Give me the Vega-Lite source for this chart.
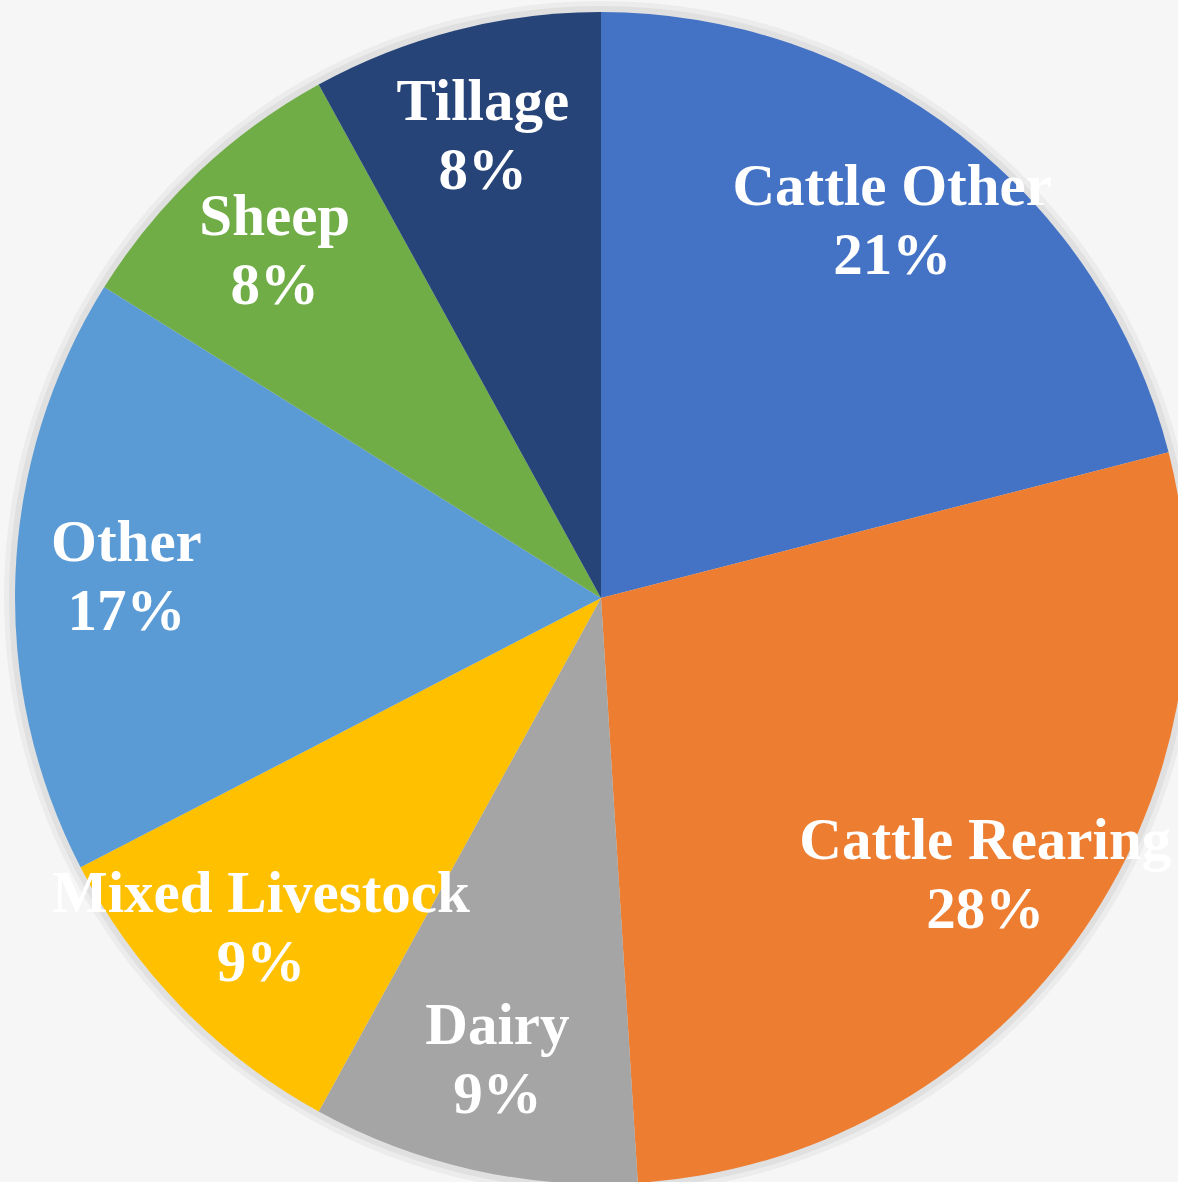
{
  "$schema": "https://vega.github.io/schema/vega-lite/v6.json",
  "width": 1178,
  "height": 1182,
  "autosize": {"type": "none"},
  "padding": 0,
  "background": "#f6f6f6",
  "config": {"view": {"stroke": null}},
  "data": {
    "values": [
      {"idx": 1, "category": "Cattle Other", "value": 21.0, "label": "Cattle Other\n21%"},
      {"idx": 2, "category": "Cattle Rearing", "value": 28.0, "label": "Cattle Rearing\n28%"},
      {"idx": 3, "category": "Dairy", "value": 9.0, "label": "Dairy\n9%"},
      {"idx": 4, "category": "Mixed Livestock", "value": 9.4, "label": "Mixed Livestock\n9%"},
      {"idx": 5, "category": "Other", "value": 16.5, "label": "Other\n17%"},
      {"idx": 6, "category": "Sheep", "value": 8.1, "label": "Sheep\n8%"},
      {"idx": 7, "category": "Tillage", "value": 8.0, "label": "Tillage\n8%"}
    ]
  },
  "encoding": {
    "theta": {"field": "value", "type": "quantitative", "stack": true},
    "order": {"field": "idx", "type": "quantitative"}
  },
  "layer": [
    {
      "mark": {"type": "arc", "outerRadius": 597, "color": "#000000", "opacity": 0.04, "xOffset": 12, "yOffset": 7}
    },
    {
      "mark": {"type": "arc", "outerRadius": 592, "color": "#000000", "opacity": 0.05, "xOffset": 12, "yOffset": 7}
    },
    {
      "mark": {"type": "arc", "outerRadius": 586, "xOffset": 12, "yOffset": 7},
      "encoding": {
        "color": {
          "field": "category",
          "type": "nominal",
          "sort": null,
          "legend": null,
          "scale": {
            "domain": ["Cattle Other", "Cattle Rearing", "Dairy", "Mixed Livestock", "Other", "Sheep", "Tillage"],
            "range": ["#4472C4", "#ED7D31", "#A5A5A5", "#FFC000", "#5B9BD5", "#70AD47", "#264478"]
          }
        }
      }
    },
    {
      "mark": {
        "type": "text",
        "radius": 475,
        "xOffset": 12,
        "yOffset": 7,
        "dy": -36,
        "font": "Liberation Serif",
        "fontWeight": "bold",
        "fontSize": 59,
        "lineHeight": 69,
        "lineBreak": "\n",
        "color": "#ffffff",
        "align": "center",
        "baseline": "middle"
      },
      "encoding": {
        "text": {"field": "label", "type": "nominal"}
      }
    }
  ]
}
